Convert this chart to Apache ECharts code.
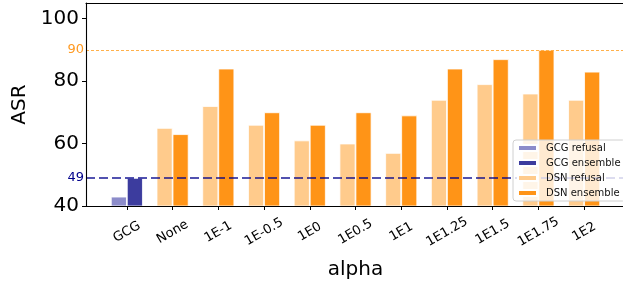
<!DOCTYPE html>
<html><head><meta charset="utf-8">
<script src="https://cdn.jsdelivr.net/npm/echarts@6/dist/echarts.min.js"></script>
<style>html,body{margin:0;padding:0;background:#fff}#c{width:623px;height:281px}</style>
</head><body><div id="c"></div>
<script>
const categories = ['GCG','None','1E-1','1E-0.5','1E0','1E0.5','1E1','1E1.25','1E1.5','1E1.75','1E2'];
const gcgRefusal  = [43,'-','-','-','-','-','-','-','-','-','-'];
const gcgEnsemble = [49,'-','-','-','-','-','-','-','-','-','-'];
const dsnRefusal  = ['-',65,72,66,61,60,57,74,79,76,74];
const dsnEnsemble = ['-',63,84,70,66,70,69,84,87,90,83];
const yTicks = [40,60,80,100];
const refLines = [{value:90,label:'90'},{value:49,label:'49'}];

const FONT = 'DejaVu Sans';
const chart = echarts.init(document.getElementById('c'), null, {renderer:'canvas'});
const bar = (name, data, color, stack) => ({
  name, type:'bar', data, stack, xAxisIndex:1, yAxisIndex:1,
  barWidth:16, barGap:'0%',
  itemStyle:{color, borderColor:'#fff', borderWidth:0.8},
  emphasis:{disabled:true}, z:2
});
const spine = (position) => ({gridIndex:0, type:'value', min:0, max:1, position, z:10,
  axisLine:{show:true, onZero:false, lineStyle:{color:'#000', width:1.1}},
  axisTick:{show:false}, axisLabel:{show:false}, splitLine:{show:false}});
chart.setOption({
  animation:false,
  textStyle:{fontFamily:FONT},
  grid:[
    {left:86, right:-2, top:3, bottom:75, containLabel:false, outerBoundsMode:'none'},
    {left:104, right:16, top:3, bottom:75, containLabel:false, outerBoundsMode:'none'}
  ],
  xAxis:[
    spine('bottom'),
    {gridIndex:1, type:'category', data:categories, boundaryGap:true, z:10,
     axisLine:{show:true, onZero:false, lineStyle:{color:'#000', width:1.1}},
     axisTick:{show:true, alignWithLabel:true, length:4, lineStyle:{color:'#000'}},
     axisLabel:{rotate:30, align:'center', verticalAlign:'middle', margin:26, fontSize:13, color:'#000', fontFamily:FONT, interval:0},
     name:'alpha', nameLocation:'middle', nameGap:54,
     nameTextStyle:{fontSize:20, color:'#000', fontFamily:FONT}},
    spine('top')
  ],
  yAxis:[
    {gridIndex:0, type:'value', min:40, max:105, z:10,
     axisLine:{show:true, onZero:false, lineStyle:{color:'#000', width:1.1}},
     axisTick:{show:true, length:4, customValues:yTicks, lineStyle:{color:'#000'}},
     axisLabel:{customValues:yTicks, fontSize:20, color:'#000', margin:7, fontFamily:FONT},
     splitLine:{show:false},
     name:'ASR', nameLocation:'middle', nameGap:55,
     nameTextStyle:{fontSize:20, color:'#000', fontFamily:FONT}},
    {gridIndex:1, type:'value', min:40, max:105, show:false, splitLine:{show:false}}
  ],
  legend:{
    data:['GCG refusal','GCG ensemble','DSN refusal','DSN ensemble'],
    orient:'vertical', left:513, top:140,
    itemWidth:19, itemHeight:6, itemGap:3,
    padding:[2,5,2,4],
    backgroundColor:'rgba(255,255,255,0.8)', borderColor:'#d0d0d0', borderWidth:1, borderRadius:3,
    textStyle:{fontSize:10, color:'#111', fontFamily:FONT, lineHeight:12, padding:[0,0,0,4]},
    icon:'rect', selectedMode:false, z:12
  },
  series:[
    bar('GCG refusal', gcgRefusal, '#8c8cca', 'r'),
    bar('GCG ensemble', gcgEnsemble, '#3c3c9e', 'e'),
    bar('DSN refusal', dsnRefusal, '#ffcb8c', 'r'),
    bar('DSN ensemble', dsnEnsemble, '#ff9417', 'e'),
    {name:'ref', type:'line', xAxisIndex:0, yAxisIndex:0, data:[], z:5,
     markLine:{
       silent:true, symbol:'none', z:5,
       data:[
         {yAxis:refLines[0].value, lineStyle:{color:'#ffb04a', width:1.1, type:[3,2]},
          label:{show:true, position:'start', formatter:refLines[0].label, color:'#ff9a22', fontSize:13, distance:2, fontFamily:FONT}},
         {yAxis:refLines[1].value, lineStyle:{color:'rgba(0,0,139,0.68)', width:2.2, type:[9,4]},
          label:{show:true, position:'start', formatter:refLines[1].label, color:'#00008b', fontSize:13, distance:2, fontFamily:FONT}}
       ]
     }}
  ]
});
</script></body></html>
